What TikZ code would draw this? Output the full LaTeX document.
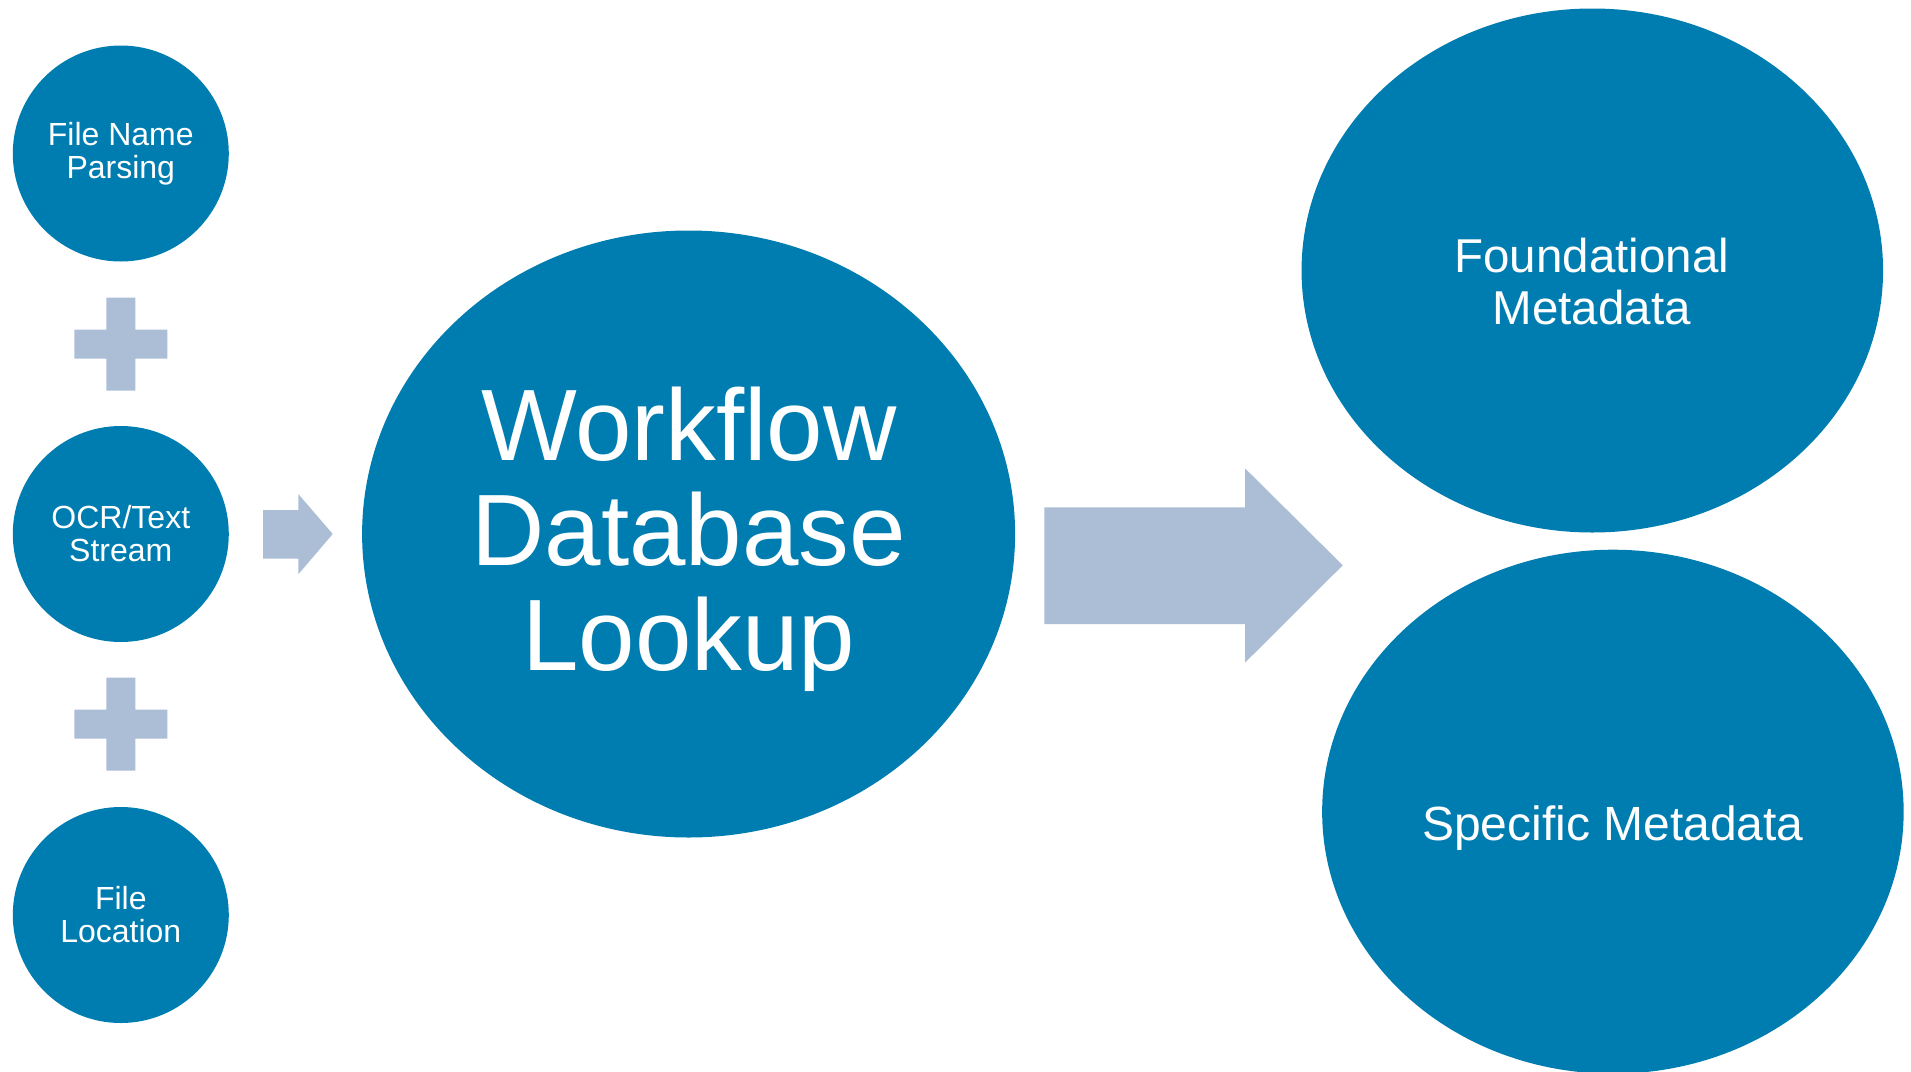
\documentclass[tikz,border=0pt]{standalone}
\usepackage{fontspec}
\setmainfont{Liberation Sans}
\usetikzlibrary{shapes.geometric}

\definecolor{disc}{RGB}{0,125,176}
\definecolor{glyph}{RGB}{171,190,214}

\tikzset{
  source/.style={circle, fill=disc, draw=none, inner sep=0pt, minimum size=216pt,
    text=white, align=center, font=\fontsize{32}{33}\selectfont},
  hub/.style={ellipse, fill=disc, draw=none, inner sep=0pt,
    minimum width=653pt, minimum height=607pt},
  result/.style={ellipse, fill=disc, draw=none, inner sep=0pt,
    minimum width=581.5pt, minimum height=524pt},
  caption/.style={text=white, align=center, inner sep=0pt},
  blockarrow/.style={fill=glyph, draw=none},
  plussign/.style={fill=glyph, draw=none}
}

\newcommand{\plusat}[2]{%
  \fill[plussign] (#1-14.5,#2-46.5) -- (#1+14.5,#2-46.5) -- (#1+14.5,#2-14.5)
    -- (#1+46.5,#2-14.5) -- (#1+46.5,#2+14.5) -- (#1+14.5,#2+14.5)
    -- (#1+14.5,#2+46.5) -- (#1-14.5,#2+46.5) -- (#1-14.5,#2+14.5)
    -- (#1-46.5,#2+14.5) -- (#1-46.5,#2-14.5) -- (#1-14.5,#2-14.5) -- cycle;}

\begin{document}
\begin{tikzpicture}[x=1pt, y=-1pt]
  \useasboundingbox (0,0) rectangle (1911,1071);

  % input sources
  \node[source] (fname) at (120.8,153.5) {File Name\\Parsing};
  \node[source] (ocr)   at (120.8,534)   {OCR/Text\\Stream};
  \node[source] (floc)  at (120.8,915)   {File\\Location};

  % plus signs between the sources
  \plusat{120.8}{344}
  \plusat{120.8}{724}

  % small arrow into the lookup
  \fill[blockarrow] (263,510) -- (298.3,510) -- (298.3,494) -- (332.7,534)
    -- (298.3,574.3) -- (298.3,558.7) -- (263,558.7) -- cycle;

  % central lookup
  \node[hub] (lookup) at (688.6,534) {};
  \node[caption, font=\fontsize{101.5}{105}\selectfont] (lookuptext)
    at (688.8,539) {Workflow\\Database\\Lookup};

  % large arrow to the outputs
  \fill[blockarrow] (1044.3,507.3) -- (1245,507.3) -- (1245,468.3) -- (1342.7,565.3)
    -- (1245,662.7) -- (1245,624) -- (1044.3,624) -- cycle;

  % resulting metadata
  \node[result] (found) at (1592.3,270.5) {};
  \node[caption, font=\fontsize{47.5}{52}\selectfont] (foundtext)
    at (1591.8,282) {Foundational\\Metadata};

  \node[result] (spec) at (1612.9,811.7) {};
  \node[caption, font=\fontsize{48}{50}\selectfont, anchor=base] (spectext)
    at (1612.9,840) {Specific Metadata};
\end{tikzpicture}
\end{document}
